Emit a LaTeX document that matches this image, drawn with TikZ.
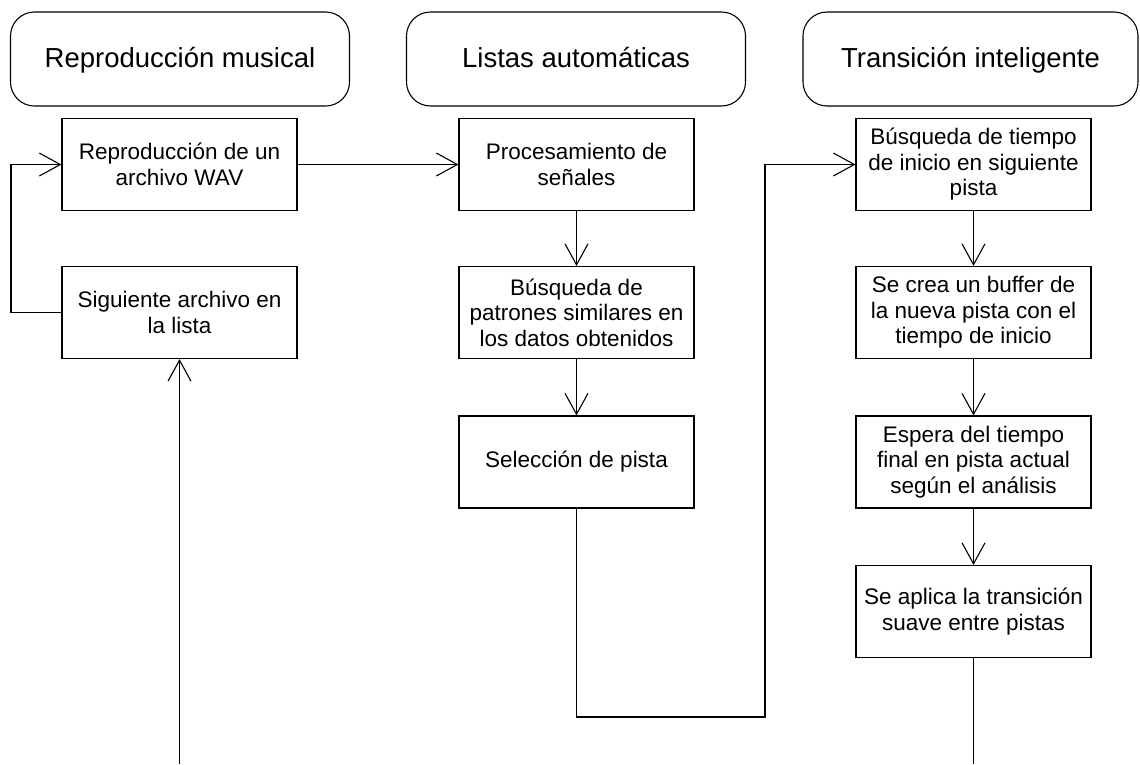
\documentclass[tikz,border=0pt]{standalone}
\usepackage{fontspec}
\setmainfont{Liberation Sans}
\usetikzlibrary{arrows.meta,positioning,calc}
\tikzstyle{phase} = [draw,rounded corners=24pt,minimum width=339pt,minimum height=94pt,inner sep=0pt,text height=21pt,text depth=4pt,font=\fontsize{27.5}{31}\selectfont]
\tikzstyle{stepbox} = [draw,fill=white,minimum width=235pt,minimum height=92pt,inner sep=2pt,align=center,font=\fontsize{22.5}{25.5}\selectfont]
\begin{document}
\begin{tikzpicture}[x=1pt,y=-1pt,line width=1.1pt,>={Straight Barb[length=21pt,width=23pt]}]
    \useasboundingbox (0,0) rectangle (1140,764);
    \node [phase] (musica) at (180,59) {Reproducción musical};
    \node [phase] (listas) at (576,59) {Listas automáticas};
    \node [phase,minimum width=335pt] (trans) at (970.5,59) {Transición inteligente};

    \node [stepbox] (rep) at (179.5,164.5) {Reproducción de un\\archivo WAV};
    \node [stepbox] (sig) at (179.5,312.5) {Siguiente archivo en\\la lista};

    \node [stepbox] (proc) at (576.5,164.5) {Procesamiento de\\señales};
    \node [stepbox] (pat) at (576.5,312.5) {Búsqueda de\\patrones similares en\\los datos obtenidos};
    \node [stepbox] (sel) at (576.5,462) {Selección de pista};

    \node [stepbox] (bus) at (973.5,164.5) {Búsqueda de tiempo\\de inicio en siguiente\\pista};
    \node [stepbox] (buf) at (973.5,312.5) {Se crea un buffer de\\la nueva pista con el\\tiempo de inicio};
    \node [stepbox] (esp) at (973.5,462) {Espera del tiempo\\final en pista actual\\según el análisis};
    \node [stepbox] (apl) at (973.5,611.5) {Se aplica la transición\\suave entre pistas};

    \path
    coordinate (in) at (179.5,764)
    coordinate (out) at (973.5,764)
    coordinate (loop) at (11,312.5)
    coordinate (jump) at (765,717);

    \draw [->] (rep) -- (proc);
    \draw [->] (sig.west) -- (loop) |- (rep.west);
    \draw [->] (in) -- (sig.south);
    \draw [->] (proc) -- (pat);
    \draw [->] (pat) -- (sel);
    \draw [->] (sel.south) |- (jump) |- (bus.west);
    \draw [->] (bus) -- (buf);
    \draw [->] (buf) -- (esp);
    \draw [->] (esp) -- (apl);
    \draw (apl.south) -- (out);
  \end{tikzpicture}
\end{document}
